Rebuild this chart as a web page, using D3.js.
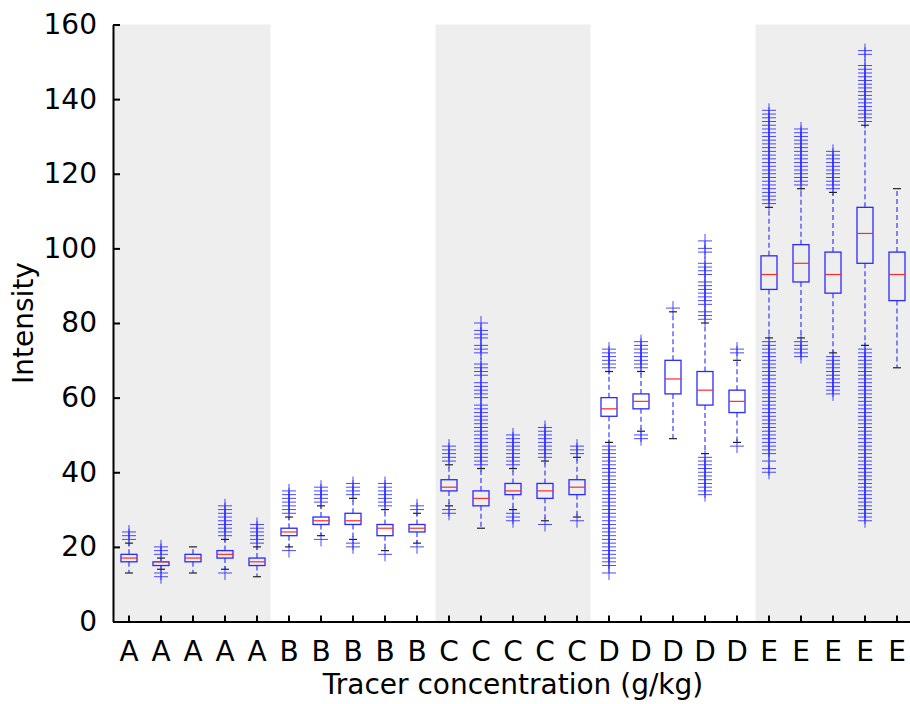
<!DOCTYPE html>
<html>
<head>
<meta charset="utf-8">
<script src="https://cdn.jsdelivr.net/npm/d3@7"></script>
<style>
  html, body { margin: 0; padding: 0; background: #ffffff; }
  svg { display: block; font-family: "DejaVu Sans", sans-serif; }
</style>
</head>
<body>
<svg id="chart" width="910" height="704"></svg>
<script>
// Tracer concentration groups, five samples each
const categories = ["A","A","A","A","A","B","B","B","B","B","C","C","C","C","C","D","D","D","D","D","E","E","E","E","E"];

// Box statistics per sample
const q1          = [16, 15, 16, 17, 15, 23, 26, 26, 23, 24, 35, 31, 34, 33, 34, 55, 57, 61, 58, 56, 89, 91, 88, 96, 86];
const medians     = [17, 16, 17, 18, 16, 24, 27, 27, 25, 25, 36, 33, 35, 35, 36, 57, 59, 65, 62, 59, 93, 96, 93, 104, 93];
const q3          = [18, 16, 18, 19, 17, 25, 28, 29, 26, 26, 38, 35, 37, 37, 38, 60, 61, 70, 67, 62, 98, 101, 99, 111, 99];
const whiskerLow  = [13, 14, 13, 14, 12, 20, 23, 22, 19, 21, 31, 25, 30, 27, 28, 48, 51, 49, 45, 48, 76, 76, 72, 74, 68];
const whiskerHigh = [21, 17, 20, 22, 20, 28, 31, 33, 30, 29, 42, 41, 41, 43, 44, 67, 67, 83, 80, 70, 111, 116, 115, 133, 116];

// Outlying intensities per sample
const outliers = [
  [22, 23, 24],
  [12, 13, 18, 19, 20],
  [],
  [13, 23, 24, 25, 26, 27, 28, 29, 30, 31],
  [21, 22, 23, 24, 25, 26],
  [19, 29, 30, 31, 32, 33, 34, 35],
  [22, 32, 33, 34, 35, 36],
  [20, 21, 34, 35, 36, 37],
  [18, 31, 32, 33, 34, 35, 36, 37],
  [20, 30, 31],
  [29, 30, 43, 44, 45, 46, 47],
  [42, 43, 44, 45, 46, 47, 48, 49, 50, 51, 52, 53, 54, 55, 56, 57, 58, 60, 61, 62, 63, 64,
   66, 67, 68, 69, 72, 73, 74, 76, 77, 78, 80],
  [27, 28, 29, 42, 43, 44, 45, 46, 47, 48, 49, 50],
  [26, 44, 45, 46, 47, 48, 49, 50, 51, 52],
  [27, 45, 46, 47],
  [13, 15, 16, 17, 18, 19, 20, 21, 22, 23, 24, 25, 26, 27, 28, 29, 30, 31, 32, 33, 34, 35,
   36, 37, 38, 39, 40, 41, 42, 43, 44, 45, 46, 47, 68, 69, 70, 71, 72, 73],
  [49, 50, 68, 69, 70, 71, 72, 73, 74, 75],
  [84],
  [34, 35, 36, 37, 38, 39, 40, 41, 42, 43, 44, 81, 82, 83, 85, 86, 87, 88, 89, 90, 91,
   93, 94, 95, 96, 99, 100, 102],
  [47, 72, 73],
  [40, 41, 43, 45, 46, 47, 48, 49, 50, 51, 52, 53, 54, 55, 56, 57, 58, 59, 60, 61, 62, 63,
   64, 65, 66, 67, 68, 69, 70, 71, 72, 73, 74, 75, 112, 113, 114, 115, 116, 117, 118, 119,
   120, 121, 122, 123, 124, 125, 126, 127, 128, 129, 130, 131, 132, 133, 134, 135, 136, 137],
  [71, 72, 73, 74, 75, 117, 118, 119, 120, 121, 122, 123, 124, 125, 126, 127, 128, 129,
   130, 131, 132],
  [61, 62, 63, 64, 65, 66, 67, 68, 69, 70, 71, 116, 117, 118, 119, 120, 121, 122, 123,
   124, 125, 126],
  [27, 28, 29, 30, 31, 32, 33, 34, 35, 36, 37, 38, 39, 40, 41, 42, 43, 44, 45, 46, 47, 48,
   49, 50, 51, 52, 53, 54, 55, 56, 57, 58, 59, 60, 61, 62, 63, 64, 65, 66, 67, 68, 69, 70,
   71, 72, 73, 134, 135, 136, 137, 138, 139, 140, 141, 142, 143, 144, 145, 146, 147, 148,
   149, 152, 153],
  []
];

// Shaded groups (first and last sample index)
const shadedGroups = [[0, 4], [10, 14], [20, 24]];

const yTicks = [0, 20, 40, 60, 80, 100, 120, 140, 160];
const xTitle = "Tracer concentration (g/kg)";
const yTitle = "Intensity";

// ---- layout ----
const W = 910, H = 704;
const plot = { left: 113, right: 913, top: 24.5, bottom: 621.5 };

const svg = d3.select("#chart");

const x = d3.scaleBand()
  .domain(d3.range(categories.length))
  .range([plot.left, plot.right])
  .paddingInner(0).paddingOuter(0);
const cx = i => x(i) + x.bandwidth() / 2;

const y = d3.scaleLinear().domain([0, 160]).range([plot.bottom, plot.top]);

// background shading for alternating groups
svg.append("g").selectAll("rect")
  .data(shadedGroups)
  .join("rect")
  .attr("x", d => d[0] === 0 ? plot.left : cx(d[0]) - 0.42 * x.step())
  .attr("y", plot.top)
  .attr("width", d => cx(d[1]) + 0.42 * x.step() - (d[0] === 0 ? plot.left : cx(d[0]) - 0.42 * x.step()))
  .attr("height", plot.bottom - plot.top)
  .attr("fill", "#eeeeee");

const boxHalf = 8, capHalf = 4, plusHalf = 7;
const blue = "#2a2aff";

const boxes = svg.append("g").selectAll("g")
  .data(categories.map((c, i) => i))
  .join("g");

// dashed whiskers
boxes.append("line")
  .attr("x1", i => cx(i)).attr("x2", i => cx(i))
  .attr("y1", i => y(q3[i])).attr("y2", i => y(whiskerHigh[i]))
  .attr("stroke", blue).attr("stroke-width", 1.1).attr("stroke-dasharray", "5,3");
boxes.append("line")
  .attr("x1", i => cx(i)).attr("x2", i => cx(i))
  .attr("y1", i => y(q1[i])).attr("y2", i => y(whiskerLow[i]))
  .attr("stroke", blue).attr("stroke-width", 1.1).attr("stroke-dasharray", "5,3");

// outlier crosses
boxes.append("path")
  .attr("d", i => outliers[i].map(v => {
    const px = cx(i), py = y(v);
    return `M${px - plusHalf},${py}H${px + plusHalf}M${px},${py - plusHalf}V${py + plusHalf}`;
  }).join(""))
  .attr("fill", "none")
  .attr("stroke", blue)
  .attr("stroke-width", 1)
  .attr("stroke-opacity", 0.85);

// whisker caps
boxes.append("line")
  .attr("x1", i => cx(i) - capHalf).attr("x2", i => cx(i) + capHalf)
  .attr("y1", i => y(whiskerHigh[i])).attr("y2", i => y(whiskerHigh[i]))
  .attr("stroke", "#222").attr("stroke-width", 1.2);
boxes.append("line")
  .attr("x1", i => cx(i) - capHalf).attr("x2", i => cx(i) + capHalf)
  .attr("y1", i => y(whiskerLow[i])).attr("y2", i => y(whiskerLow[i]))
  .attr("stroke", "#222").attr("stroke-width", 1.2);

// boxes
boxes.append("rect")
  .attr("x", i => cx(i) - boxHalf)
  .attr("width", boxHalf * 2)
  .attr("y", i => y(q3[i]))
  .attr("height", i => y(q1[i]) - y(q3[i]))
  .attr("fill", "none")
  .attr("stroke", blue)
  .attr("stroke-width", 1.3);

// medians
boxes.append("line")
  .attr("x1", i => cx(i) - boxHalf).attr("x2", i => cx(i) + boxHalf)
  .attr("y1", i => y(medians[i])).attr("y2", i => y(medians[i]))
  .attr("stroke", "#ff2a2a").attr("stroke-width", 1.2);

// axes
const yAxis = d3.axisLeft(y).tickValues(yTicks).tickSizeInner(-7).tickSizeOuter(0).tickPadding(16);
const xAxis = d3.axisBottom(x).tickFormat(i => categories[i]).tickSizeInner(-6).tickSizeOuter(0).tickPadding(20);

const gy = svg.append("g").attr("transform", `translate(${plot.left},0)`).call(yAxis);
const gx = svg.append("g").attr("transform", `translate(0,${plot.bottom})`).call(xAxis);

[gx, gy].forEach(g => {
  g.select(".domain").attr("stroke", "#000").attr("stroke-width", 2);
  g.selectAll(".tick line").attr("stroke", "#000").attr("stroke-width", 2);
  g.selectAll(".tick text").attr("fill", "#000")
    .style("font-family", "'DejaVu Sans', sans-serif").style("font-size", "28px");
});

// axis titles
svg.append("text")
  .attr("x", (plot.left + plot.right) / 2)
  .attr("y", 694)
  .attr("text-anchor", "middle")
  .style("font-size", "28px")
  .attr("fill", "#000")
  .text(xTitle);

svg.append("text")
  .attr("transform", `translate(33,${(plot.top + plot.bottom) / 2}) rotate(-90)`)
  .attr("text-anchor", "middle")
  .style("font-size", "28px")
  .attr("fill", "#000")
  .text(yTitle);
</script>
</body>
</html>
